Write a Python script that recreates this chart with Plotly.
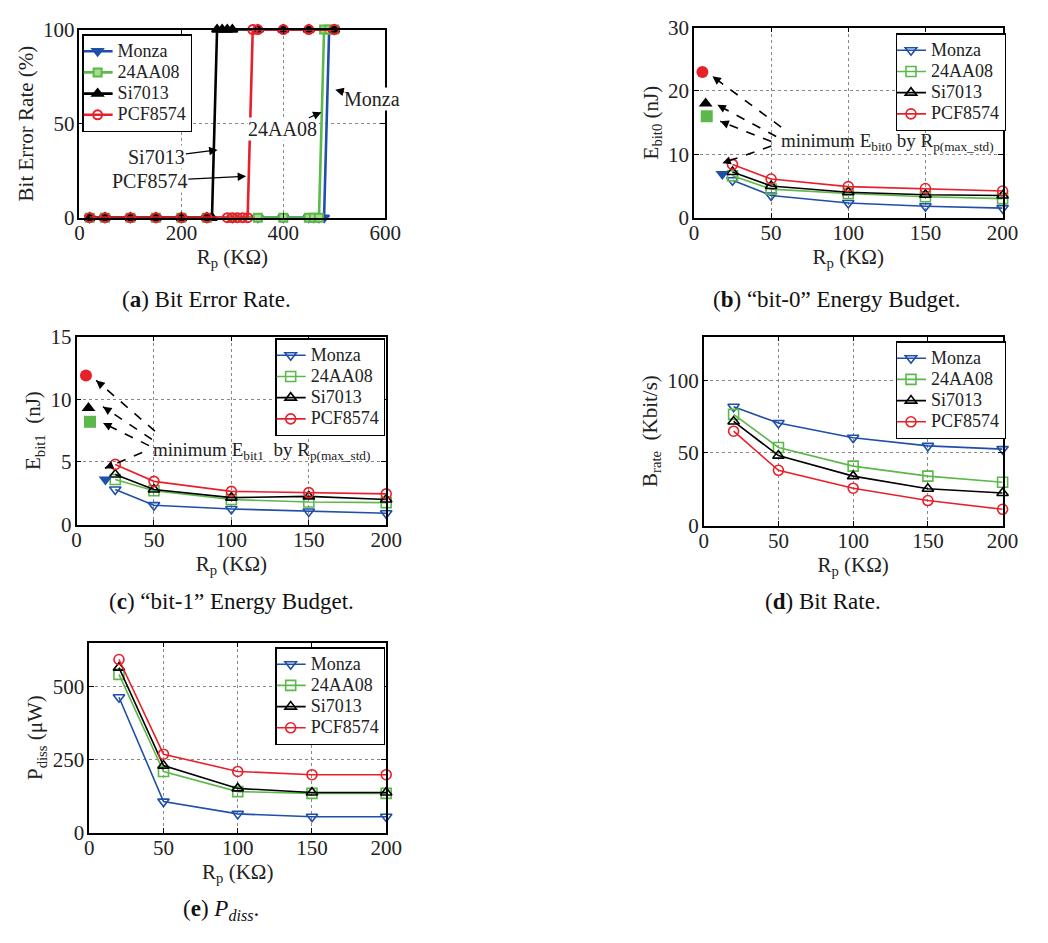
import plotly.graph_objects as go

FONT = "Liberation Serif, Times New Roman, Times, serif"
C_MONZA = "#1f4fa8"
C_24AA = "#5cb84a"
C_SI = "#000000"
C_PCF = "#e8202a"
names = ["Monza", "24AA08", "Si7013", "PCF8574"]
colors = [C_MONZA, C_24AA, C_SI, C_PCF]

# ---- (a) Bit Error Rate ----
ber_x_monza = [20, 50, 100, 150, 200, 250, 300, 350, 400, 450, 460, 470, 480, 490, 500]
ber_monza = [0, 0, 0, 0, 0, 0, 0, 0, 0, 0, 0, 0, 0, 100, 100]
ber_x_24aa08 = [20, 50, 100, 150, 200, 250, 300, 350, 400, 450, 460, 470, 480, 490, 500]
ber_24aa08 = [0, 0, 0, 0, 0, 0, 0, 0, 0, 0, 0, 0, 100, 100, 100]
ber_x_si7013 = [20, 50, 100, 150, 200, 250, 260, 270, 280, 290, 300, 350, 400, 450, 500]
ber_si7013 = [0, 0, 0, 0, 0, 0, 0, 100, 100, 100, 100, 100, 100, 100, 100]
ber_x_pcf8574 = [20, 50, 100, 150, 200, 250, 290, 300, 310, 320, 330, 340, 350, 400, 450, 500]
ber_pcf8574 = [0, 0, 0, 0, 0, 0, 0, 0, 0, 0, 0, 100, 100, 100, 100, 100]

# ---- (b) bit-0 energy ----
rp_e = [25, 50, 100, 150, 200]
ebit0_monza = [5.9, 3.5, 2.3, 1.8, 1.5]
ebit0_24aa08 = [6.6, 4.5, 3.8, 3.3, 3.0]
ebit0_si7013 = [7.2, 5.0, 4.0, 3.6, 3.5]
ebit0_pcf8574 = [8.4, 6.1, 4.9, 4.6, 4.2]
min0_x = [18.4, 8.3, 7.6, 5.5]      # Monza, 24AA08, Si7013, PCF8574
min0_y = [6.9, 16.0, 18.0, 23.0]

# ---- (c) bit-1 energy ----
ebit1_monza = [2.8, 1.55, 1.25, 1.05, 0.9]
ebit1_24aa08 = [3.6, 2.7, 2.0, 1.8, 1.75]
ebit1_si7013 = [4.0, 2.8, 2.15, 2.25, 2.0]
ebit1_pcf8574 = [4.8, 3.45, 2.65, 2.55, 2.45]
min1_x = [18.7, 8.7, 7.7, 6.1]
min1_y = [3.6, 8.2, 9.3, 11.9]

# ---- (d) bit rate ----
rp_b = [20, 50, 100, 150, 200]
brate_monza = [81.7, 70.5, 60.4, 54.8, 52.6]
brate_24aa08 = [76.5, 53.7, 40.9, 34.0, 29.8]
brate_si7013 = [71.6, 48.1, 34.0, 25.3, 22.4]
brate_pcf8574 = [64.9, 38.0, 25.7, 17.2, 11.2]

# ---- (e) power dissipation ----
pdiss_monza = [463, 106, 64, 54, 54]
pdiss_24aa08 = [541, 209, 140, 134, 134]
pdiss_si7013 = [564, 229, 151, 137, 137]
pdiss_pcf8574 = [592, 268, 209, 198, 198]

W, H = 1048, 943
def px_x(p):
    return p / W
def px_y(p):
    return 1 - p / H

def leg_name(n):
    return '<span style="font-size:18px">' + n + '</span>'

fig = go.Figure()

a_series = [(ber_x_monza, ber_monza), (ber_x_24aa08, ber_24aa08),
            (ber_x_si7013, ber_si7013), (ber_x_pcf8574, ber_pcf8574)]
a_symbols = ["triangle-down", "square", "triangle-up", "circle-open"]
for (xs, ys), n, c, s in zip(a_series, names, colors, a_symbols):
    mk = dict(symbol=s, size=9, color=c, line=dict(color=c, width=2))
    if s == "square":
        mk = dict(symbol="square", size=8, color="#a6dd8c", line=dict(color=c, width=2))
    fig.add_trace(go.Scatter(x=xs, y=ys, name=leg_name(n), mode="lines+markers",
                             line=dict(color=c, width=2.6), marker=mk,
                             xaxis="x", yaxis="y", legend="legend", cliponaxis=False))

open_symbols = ["triangle-down-open", "square-open", "triangle-up-open", "circle-open"]
filled_symbols = ["triangle-down", "square", "triangle-up", "circle"]

def add_panel(xs, series, ax_id, leg):
    xa = "x" + ax_id
    ya = "y" + ax_id
    for ys, n, c, s in zip(series, names, colors, open_symbols):
        fig.add_trace(go.Scatter(x=xs, y=ys, name=leg_name(n), mode="lines+markers",
                                 line=dict(color=c, width=1.6),
                                 marker=dict(symbol=s, size=10, color=c, line=dict(color=c, width=1.6)),
                                 xaxis=xa, yaxis=ya, legend=leg, cliponaxis=False))

add_panel(rp_e, [ebit0_monza, ebit0_24aa08, ebit0_si7013, ebit0_pcf8574], "2", "legend2")
for xv, yv, c, s in zip(min0_x, min0_y, colors, filled_symbols):
    fig.add_trace(go.Scatter(x=[xv], y=[yv], mode="markers", showlegend=False,
                             marker=dict(symbol=s, size=12, color=c), xaxis="x2", yaxis="y2",
                             cliponaxis=False))
add_panel(rp_e, [ebit1_monza, ebit1_24aa08, ebit1_si7013, ebit1_pcf8574], "3", "legend3")
for xv, yv, c, s in zip(min1_x, min1_y, colors, filled_symbols):
    fig.add_trace(go.Scatter(x=[xv], y=[yv], mode="markers", showlegend=False,
                             marker=dict(symbol=s, size=12, color=c), xaxis="x3", yaxis="y3",
                             cliponaxis=False))
add_panel(rp_b, [brate_monza, brate_24aa08, brate_si7013, brate_pcf8574], "4", "legend4")
add_panel(rp_b, [pdiss_monza, pdiss_24aa08, pdiss_si7013, pdiss_pcf8574], "5", "legend5")

def axis(dom, rng, tv, anchor, title, standoff, is_x):
    d = dict(domain=dom, range=rng, tickvals=tv, anchor=anchor,
             showline=True, linecolor="black", linewidth=1.5, mirror="allticks",
             ticks="inside", ticklen=5, tickcolor="black", tickwidth=1,
             showgrid=True, gridcolor="#888", griddash="dot", gridwidth=1,
             zeroline=False, tickfont=dict(family=FONT, size=21, color="#222"),
             title=dict(text=title, font=dict(family=FONT, size=21, color="#222"),
                        standoff=standoff))
    d["ticklabelstandoff"] = -5 if is_x else -1
    return d

RP = "R<sub>p</sub> (KΩ)"
lay = dict(
    width=W, height=H, margin=dict(l=0, r=0, t=0, b=0),
    paper_bgcolor="white", plot_bgcolor="white",
    font=dict(family=FONT, color="#222"),
    xaxis=axis([px_x(76), px_x(388)], [0, 600], [0, 200, 400, 600], "y", RP, 0, True),
    yaxis=axis([px_y(211), px_y(18)], [0, 100], [0, 50, 100], "x", "Bit Error Rate (%)", 4, False),
    xaxis2=axis([px_x(703), px_x(1018)], [0, 200], [0, 50, 100, 150, 200], "y2", RP, 0, True),
    yaxis2=axis([px_y(211), px_y(16)], [0, 30], [0, 10, 20, 30], "x2", "E<sub>bit0</sub> (nJ)", 4, False),
    xaxis3=axis([px_x(73), px_x(389)], [0, 200], [0, 50, 100, 150, 200], "y3", RP, 0, True),
    yaxis3=axis([px_y(526), px_y(333)], [0, 15], [0, 5, 10, 15], "x3", "E<sub>bit1</sub>  (nJ)", 4, False),
    xaxis4=axis([px_x(713), px_x(1018)], [0, 200], [0, 50, 100, 150, 200], "y4", RP, 0, True),
    yaxis4=axis([px_y(527), px_y(333)], [0, 130], [0, 50, 100], "x4", "B<sub>rate</sub>  (Kbit/s)", 4, False),
    xaxis5=axis([px_x(86), px_x(389)], [0, 200], [0, 50, 100, 150, 200], "y5", RP, 0, True),
    yaxis5=axis([px_y(842), px_y(647)], [0, 650], [0, 250, 500], "x5", "P<sub>diss</sub> (μW)", 4, False),
)

def legend(xp, yp):
    return dict(x=px_x(xp), y=px_y(yp), xanchor="left", yanchor="top",
                bgcolor="white", bordercolor="black", borderwidth=1.2,
                font=dict(family=FONT, size=14, color="#222"), tracegroupgap=0,
                itemwidth=30, indentation=-6)

lay["legend"] = legend(79, 23)
lay["legend2"] = legend(909, 22)
lay["legend3"] = legend(276, 335)
lay["legend4"] = legend(909, 338)
lay["legend5"] = legend(276, 652)
fig.update_layout(**lay)

annotations = []
a_notes = [("Monza", 575, 63, 502, 68), ("24AA08", 398, 47, 475, 56),
           ("Si7013", 152, 32, 271, 36), ("PCF8574", 138, 19.5, 327, 22)]
for t, tx, ty, hx, hy in a_notes:
    annotations.append(dict(text=t, x=hx, y=hy, ax=tx, ay=ty, xref="x", yref="y",
                            axref="x", ayref="y", showarrow=True, arrowhead=2,
                            arrowsize=1.3, arrowwidth=1.3, arrowcolor="black",
                            bgcolor="white", font=dict(family=FONT, size=20, color="#222"),
                            borderpad=0))

shapes = []
def dashed_arrows(ax_id, arrows):
    for sx, sy, ex, ey in arrows:
        shapes.append(dict(type="line", xref="x" + ax_id, yref="y" + ax_id,
                           x0=sx, y0=sy, x1=ex, y1=ey,
                           line=dict(color="black", width=1.6, dash="dash")))
        fx = ex + (sx - ex) * 0.12
        fy = ey + (sy - ey) * 0.12
        annotations.append(dict(text="", x=ex, y=ey, ax=fx, ay=fy, xref="x" + ax_id,
                                yref="y" + ax_id, axref="x" + ax_id, ayref="y" + ax_id,
                                showarrow=True, arrowhead=2, arrowsize=1.3, arrowwidth=1.3,
                                arrowcolor="black"))

dashed_arrows("2", [(56.5, 14.3, 12.0, 22.3), (53.3, 12.8, 15.2, 17.8),
                    (50.2, 12.0, 17.1, 15.2), (50.2, 11.3, 18.4, 8.6)])
annotations.append(dict(text="minimum E<sub>bit0</sub> by R<sub>p(max_std)</sub>",
                        x=55, y=11.9, xref="x2", yref="y2", xanchor="left", yanchor="middle",
                        showarrow=False, font=dict(family=FONT, size=19, color="#222")))
dashed_arrows("3", [(50.6, 7.46, 12.7, 11.5), (48.7, 6.8, 17.1, 9.4),
                    (46.8, 6.3, 17.1, 8.1), (42.4, 5.75, 18.3, 4.5)])
annotations.append(dict(text="minimum E<sub>bit1</sub>  by R<sub>p(max_std)</sub>",
                        x=48, y=5.9, xref="x3", yref="y3", xanchor="left", yanchor="middle",
                        showarrow=False, font=dict(family=FONT, size=19, color="#222")))

captions = [("(<b>a</b>) Bit Error Rate.", 206, 295),
            ("(<b>b</b>) “bit-0” Energy Budget.", 849, 295),
            ("(<b>c</b>) “bit-1” Energy Budget.", 231, 605),
            ("(<b>d</b>) Bit Rate.", 835, 605),
            ("(<b>e</b>) <i>P<sub>diss</sub></i>.", 220, 921)]
for t, cx, cy in captions:
    annotations.append(dict(text=t, x=px_x(cx), y=px_y(cy), xref="paper", yref="paper",
                            xanchor="center", yanchor="middle", showarrow=False,
                            font=dict(family=FONT, size=23, color="#111")))

fig.update_layout(annotations=annotations, shapes=shapes)
fig.write_html("out.html")
